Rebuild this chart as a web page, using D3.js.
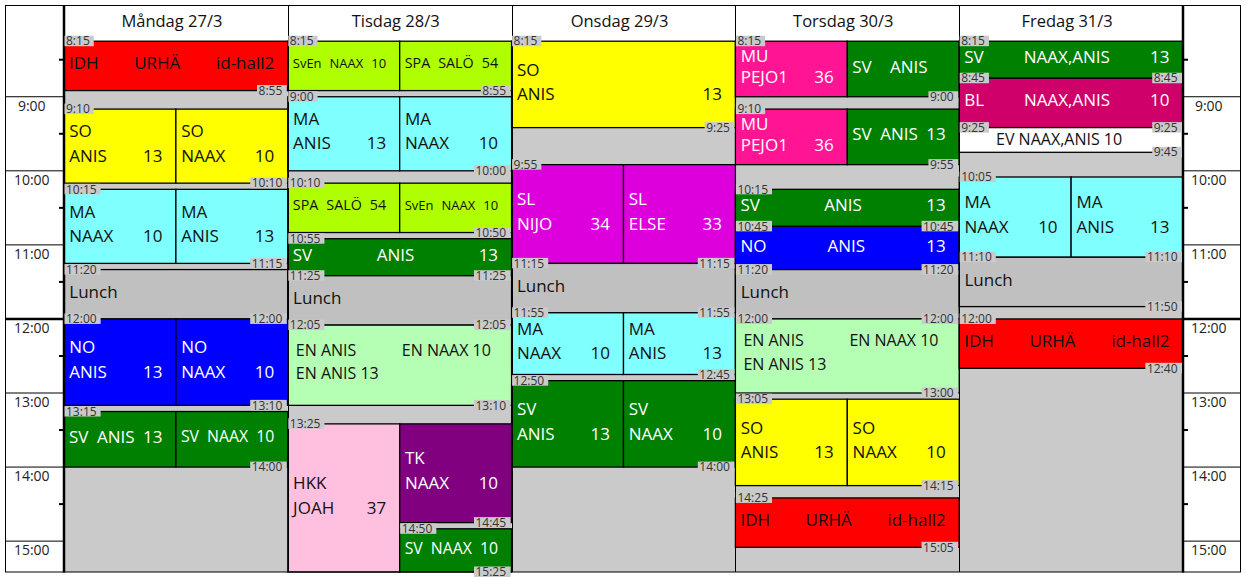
<!DOCTYPE html>
<html><head><meta charset="utf-8">
<script src="https://cdn.jsdelivr.net/npm/d3@7"></script>
<style>
body{margin:0;background:#fff;}
svg text{font-family:"Open Sans",sans-serif;}
</style></head>
<body><svg id="c" width="1247" height="577"></svg>
<script>
// ---------- data ----------
const days = ["Måndag 27/3", "Tisdag 28/3", "Onsdag 29/3", "Torsdag 30/3", "Fredag 31/3"];
const hourTicks = ["9:00", "10:00", "11:00", "12:00", "13:00", "14:00", "15:00"];
const halfHourTicks = ["8:30", "9:30", "10:30", "11:30", "12:30", "13:30", "14:30"];
const dayStart = "8:15";
const dayEnd = "15:25";

// d = day index, lane / of = lane within the day column
const mondayEvents = [
  {d:0, s:"8:15",  e:"8:55",  lane:0, of:1, subj:"IDH", who:"URHÄ", room:"id-hall2", fmt:"row"},
  {d:0, s:"9:10",  e:"10:10", lane:0, of:2, subj:"SO", who:"ANIS", room:"13", fmt:"two"},
  {d:0, s:"9:10",  e:"10:10", lane:1, of:2, subj:"SO", who:"NAAX", room:"10", fmt:"two"},
  {d:0, s:"10:15", e:"11:15", lane:0, of:2, subj:"MA", who:"NAAX", room:"10", fmt:"two"},
  {d:0, s:"10:15", e:"11:15", lane:1, of:2, subj:"MA", who:"ANIS", room:"13", fmt:"two"},
  {d:0, s:"11:20", e:"12:00", lane:0, of:1, subj:"Lunch", fmt:"lunch"},
  {d:0, s:"12:00", e:"13:10", lane:0, of:2, subj:"NO", who:"ANIS", room:"13", fmt:"two"},
  {d:0, s:"12:00", e:"13:10", lane:1, of:2, subj:"NO", who:"NAAX", room:"10", fmt:"two"},
  {d:0, s:"13:15", e:"14:00", lane:0, of:2, subj:"SV", who:"ANIS", room:"13", fmt:"row"},
  {d:0, s:"13:15", e:"14:00", lane:1, of:2, subj:"SV", who:"NAAX", room:"10", fmt:"row"}
];
const tuesdayEvents = [
  {d:1, s:"8:15",  e:"8:55",  lane:0, of:2, subj:"SvEn", who:"NAAX", room:"10", fmt:"row"},
  {d:1, s:"8:15",  e:"8:55",  lane:1, of:2, subj:"SPA", who:"SALÖ", room:"54", fmt:"row"},
  {d:1, s:"9:00",  e:"10:00", lane:0, of:2, subj:"MA", who:"ANIS", room:"13", fmt:"two"},
  {d:1, s:"9:00",  e:"10:00", lane:1, of:2, subj:"MA", who:"NAAX", room:"10", fmt:"two"},
  {d:1, s:"10:10", e:"10:50", lane:0, of:2, subj:"SPA", who:"SALÖ", room:"54", fmt:"row"},
  {d:1, s:"10:10", e:"10:50", lane:1, of:2, subj:"SvEn", who:"NAAX", room:"10", fmt:"row"},
  {d:1, s:"10:55", e:"11:25", lane:0, of:1, subj:"SV", who:"ANIS", room:"13", fmt:"row"},
  {d:1, s:"11:25", e:"12:05", lane:0, of:1, subj:"Lunch", fmt:"lunch"},
  {d:1, s:"12:05", e:"13:10", lane:0, of:1, subj:"EN", items:["EN ANIS", "EN NAAX 10", "EN ANIS 13"], fmt:"flow"},
  {d:1, s:"13:25", e:"15:25", lane:0, of:2, subj:"HKK", who:"JOAH", room:"37", fmt:"two"},
  {d:1, s:"13:25", e:"14:45", lane:1, of:2, subj:"TK", who:"NAAX", room:"10", fmt:"two"},
  {d:1, s:"14:50", e:"15:25", lane:1, of:2, subj:"SV", who:"NAAX", room:"10", fmt:"row"}
];
const wednesdayEvents = [
  {d:2, s:"8:15",  e:"9:25",  lane:0, of:1, subj:"SO", who:"ANIS", room:"13", fmt:"two"},
  {d:2, s:"9:55",  e:"11:15", lane:0, of:2, subj:"SL", who:"NIJO", room:"34", fmt:"two"},
  {d:2, s:"9:55",  e:"11:15", lane:1, of:2, subj:"SL", who:"ELSE", room:"33", fmt:"two"},
  {d:2, s:"11:15", e:"11:55", lane:0, of:1, subj:"Lunch", fmt:"lunch"},
  {d:2, s:"11:55", e:"12:45", lane:0, of:2, subj:"MA", who:"NAAX", room:"10", fmt:"two"},
  {d:2, s:"11:55", e:"12:45", lane:1, of:2, subj:"MA", who:"ANIS", room:"13", fmt:"two"},
  {d:2, s:"12:50", e:"14:00", lane:0, of:2, subj:"SV", who:"ANIS", room:"13", fmt:"two"},
  {d:2, s:"12:50", e:"14:00", lane:1, of:2, subj:"SV", who:"NAAX", room:"10", fmt:"two"}
];
const thursdayEvents = [
  {d:3, s:"8:15",  e:"9:00",  lane:0, of:2, subj:"MU", who:"PEJO1", room:"36", fmt:"two"},
  {d:3, s:"8:15",  e:"9:00",  lane:1, of:2, subj:"SV", who:"ANIS", room:"", fmt:"row"},
  {d:3, s:"9:10",  e:"9:55",  lane:0, of:2, subj:"MU", who:"PEJO1", room:"36", fmt:"two"},
  {d:3, s:"9:10",  e:"9:55",  lane:1, of:2, subj:"SV", who:"ANIS", room:"13", fmt:"row"},
  {d:3, s:"10:15", e:"10:45", lane:0, of:1, subj:"SV", who:"ANIS", room:"13", fmt:"row"},
  {d:3, s:"10:45", e:"11:20", lane:0, of:1, subj:"NO", who:"ANIS", room:"13", fmt:"row"},
  {d:3, s:"11:20", e:"12:00", lane:0, of:1, subj:"Lunch", fmt:"lunch"},
  {d:3, s:"12:00", e:"13:00", lane:0, of:1, subj:"EN", items:["EN ANIS", "EN NAAX 10", "EN ANIS 13"], fmt:"flow"},
  {d:3, s:"13:05", e:"14:15", lane:0, of:2, subj:"SO", who:"ANIS", room:"13", fmt:"two"},
  {d:3, s:"13:05", e:"14:15", lane:1, of:2, subj:"SO", who:"NAAX", room:"10", fmt:"two"},
  {d:3, s:"14:25", e:"15:05", lane:0, of:1, subj:"IDH", who:"URHÄ", room:"id-hall2", fmt:"row"}
];
const fridayEvents = [
  {d:4, s:"8:15",  e:"8:45",  lane:0, of:1, subj:"SV", who:"NAAX,ANIS", room:"13", fmt:"row"},
  {d:4, s:"8:45",  e:"9:25",  lane:0, of:1, subj:"BL", who:"NAAX,ANIS", room:"10", fmt:"row"},
  {d:4, s:"9:25",  e:"9:45",  lane:0, of:1, subj:"EV", items:["EV NAAX,ANIS 10"], fmt:"mid"},
  {d:4, s:"10:05", e:"11:10", lane:0, of:2, subj:"MA", who:"NAAX", room:"10", fmt:"two"},
  {d:4, s:"10:05", e:"11:10", lane:1, of:2, subj:"MA", who:"ANIS", room:"13", fmt:"two"},
  {d:4, s:"11:10", e:"11:50", lane:0, of:1, subj:"Lunch", fmt:"lunch"},
  {d:4, s:"12:00", e:"12:40", lane:0, of:1, subj:"IDH", who:"URHÄ", room:"id-hall2", fmt:"row"}
];
const events = [].concat(mondayEvents, tuesdayEvents, wednesdayEvents, thursdayEvents, fridayEvents);

// ---------- styles ----------
const subjectColors = {
  IDH:"#ff0000", SO:"#ffff00", MA:"#80ffff", NO:"#0000ff", SV:"#008000",
  SvEn:"#b0ff00", SPA:"#b0ff00", EN:"#b4ffb4", SL:"#dd00dd", MU:"#ff1493",
  BL:"#d0006a", TK:"#800080", HKK:"#ffc0e0", EV:"#ffffff", Lunch:"#c0c0c0"
};
const whiteText = new Set(["SV", "NO", "SL", "MU", "BL", "TK"]);
const BG = "#cacaca";

// ---------- scales ----------
const parseT = s => { const [h, m] = s.split(":").map(Number); return h + m / 60; };
const y = d3.scaleLinear().domain([parseT(dayStart), parseT(dayEnd)]).range([41.2, 572]);
const x = d3.scaleBand().domain(days).range([64, 1183]).paddingInner(0).paddingOuter(0);
const bw = x.bandwidth();

const svg = d3.select("#c");
svg.append("rect").attr("width", 1247).attr("height", 577).attr("fill", "#fff");

// day column backgrounds
svg.append("g").selectAll("rect").data(days).join("rect")
  .attr("x", d => x(d)).attr("y", y(parseT(dayStart)))
  .attr("width", bw).attr("height", y(parseT(dayEnd)) - y(parseT(dayStart)))
  .attr("fill", BG);

// geometry for events
events.forEach(ev => {
  ev.x = x(days[ev.d]) + ev.lane * bw / ev.of;
  ev.w = bw / ev.of;
  ev.y0 = y(parseT(ev.s));
  ev.y1 = y(parseT(ev.e));
});

const blocks = svg.append("g");
blocks.selectAll("rect").data(events).join("rect")
  .attr("x", d => d.x).attr("y", d => d.y0)
  .attr("width", d => d.w).attr("height", d => d.y1 - d.y0)
  .attr("fill", d => subjectColors[d.subj])
  .attr("stroke", "#000").attr("stroke-width", 1.3);

// texts
const tg = svg.append("g");
function addText(str, tx, ty, fs, anchor, fill) {
  return tg.append("text").attr("x", tx).attr("y", ty).attr("font-size", fs)
    .attr("text-anchor", anchor).attr("fill", fill).text(str);
}
events.forEach(ev => {
  const fill = whiteText.has(ev.subj) ? "#fff" : "#111";
  const mid = (ev.y0 + ev.y1) / 2;
  const h = ev.y1 - ev.y0;
  if (ev.fmt === "row") {
    const left = ev.x + 5, right = ev.x + ev.w - 13.5, avail = right - left;
    const parts = [ev.subj, ev.who, ev.room];
    const nodes = parts.map(p => addText(p, 0, 0, 17, "start", fill));
    const ws = nodes.map(n => n.node().getComputedTextLength());
    const sum = d3.sum(ws);
    let fs = 17;
    if (sum + 16 > avail) fs = 17 * (avail - 16) / sum;
    const sw = ws.map(v => v * fs / 17);
    const gap = (avail - d3.sum(sw)) / 2;
    const base = mid - 2.5 + 0.357 * fs;
    nodes[0].attr("x", left).attr("y", base).attr("font-size", fs);
    nodes[1].attr("x", left + sw[0] + gap).attr("y", base).attr("font-size", fs);
    nodes[2].attr("x", right).attr("y", base).attr("font-size", fs).attr("text-anchor", "end");
  } else if (ev.fmt === "two") {
    const sp = Math.min(24.5, h * 0.385);
    const c = mid - 2.7;
    const b1 = c - sp / 2 + 6.1, b2 = c + sp / 2 + 6.1;
    addText(ev.subj, ev.x + 5.3, b1, 17, "start", fill);
    addText(ev.who, ev.x + 5.3, b2, 17, "start", fill);
    addText(ev.room, ev.x + ev.w - 13.5, b2, 17, "end", fill);
  } else if (ev.fmt === "lunch") {
    addText("Lunch", ev.x + 5.3, mid - 2.4 + 6.1, 17, "start", "#111");
  } else if (ev.fmt === "mid") {
    addText(ev.items[0], ev.x + ev.w / 2 - 12, mid - 1 + 5.7, 16, "middle", "#111");
  } else if (ev.fmt === "flow") {
    const c = mid - 3.4, sp = 23.7;
    addText(ev.items[0], ev.x + 8, c - sp / 2 + 5.7, 16, "start", fill);
    addText(ev.items[1], ev.x + 114, c - sp / 2 + 5.7, 16, "start", fill);
    addText(ev.items[2], ev.x + 8, c + sp / 2 + 5.7, 16, "start", fill);
  }
});

// grid lines
const grid = svg.append("g").attr("stroke", "#000").attr("fill", "none");
days.slice(1).forEach(dn => {
  grid.append("line").attr("x1", Math.round(x(dn)) + 0.5).attr("x2", Math.round(x(dn)) + 0.5)
    .attr("y1", 5.5).attr("y2", 572).attr("stroke-width", 1);
});
grid.append("rect").attr("x", 5.5).attr("y", 5.5).attr("width", 1235).attr("height", 566.5).attr("stroke-width", 1);
[64, 1183].forEach(xx => grid.append("line").attr("x1", xx).attr("x2", xx).attr("y1", 5).attr("y2", 572.5).attr("stroke-width", 2.5));

// time labels on blocks
const lg = svg.append("g");
function timeLabel(str, tx, ty, anchor, boxL, boxR) {
  const t = lg.append("text").attr("x", tx).attr("y", ty + 4.2).attr("font-size", 12)
    .attr("text-anchor", anchor).attr("fill", "#333").text(str);
  const tw = t.node().getComputedTextLength();
  let x0, x1;
  if (anchor === "start") { x0 = boxL; x1 = tx + tw + 4; }
  else { x0 = tx - tw - 1.5; x1 = boxR; }
  lg.insert("rect", "text").attr("x", x0).attr("y", ty - 5.5).attr("width", x1 - x0).attr("height", 10.5)
    .attr("fill", BG);
  t.raise();
}
events.forEach(ev => {
  const startShared = events.some(o => o !== ev && o.d === ev.d && o.s === ev.s && o.lane < ev.lane);
  const endShared = events.some(o => o !== ev && o.d === ev.d && o.e === ev.e && o.lane > ev.lane);
  if (!startShared) timeLabel(ev.s, ev.x + 2, ev.y0, "start", ev.x + 0.5, 0);
  if (!endShared) timeLabel(ev.e, ev.x + ev.w - 5.5, ev.y1, "end", 0, ev.x + ev.w - 1);
});

// time columns
const cols = [[5.5, 64], [1183, 1240.5]];
const tc = svg.append("g");
cols.forEach(([a, b]) => {
  hourTicks.forEach(t => {
    const yy = y(parseT(t));
    tc.append("line").attr("x1", a).attr("x2", b).attr("y1", yy).attr("y2", yy)
      .attr("stroke", "#000").attr("stroke-width", t === "12:00" ? 2.5 : 1);
    tc.append("text").attr("x", (a + b) / 2 - 3).attr("y", yy + 14).attr("font-size", 14)
      .attr("text-anchor", "middle").attr("fill", "#222").text(t);
  });
});
halfHourTicks.forEach(t => {
  const yy = y(parseT(t));
  tc.append("line").attr("x1", 59).attr("x2", 64).attr("y1", yy).attr("y2", yy).attr("stroke", "#000").attr("stroke-width", 2);
  tc.append("line").attr("x1", 1183).attr("x2", 1188).attr("y1", yy).attr("y2", yy).attr("stroke", "#000").attr("stroke-width", 2);
});

// headers
svg.append("g").selectAll("text").data(days).join("text")
  .attr("x", d => x(d) + bw / 2 - 4).attr("y", 27.3)
  .attr("font-size", 16.5).attr("text-anchor", "middle").attr("fill", "#111")
  .text(d => d);
</script>
</body></html>
